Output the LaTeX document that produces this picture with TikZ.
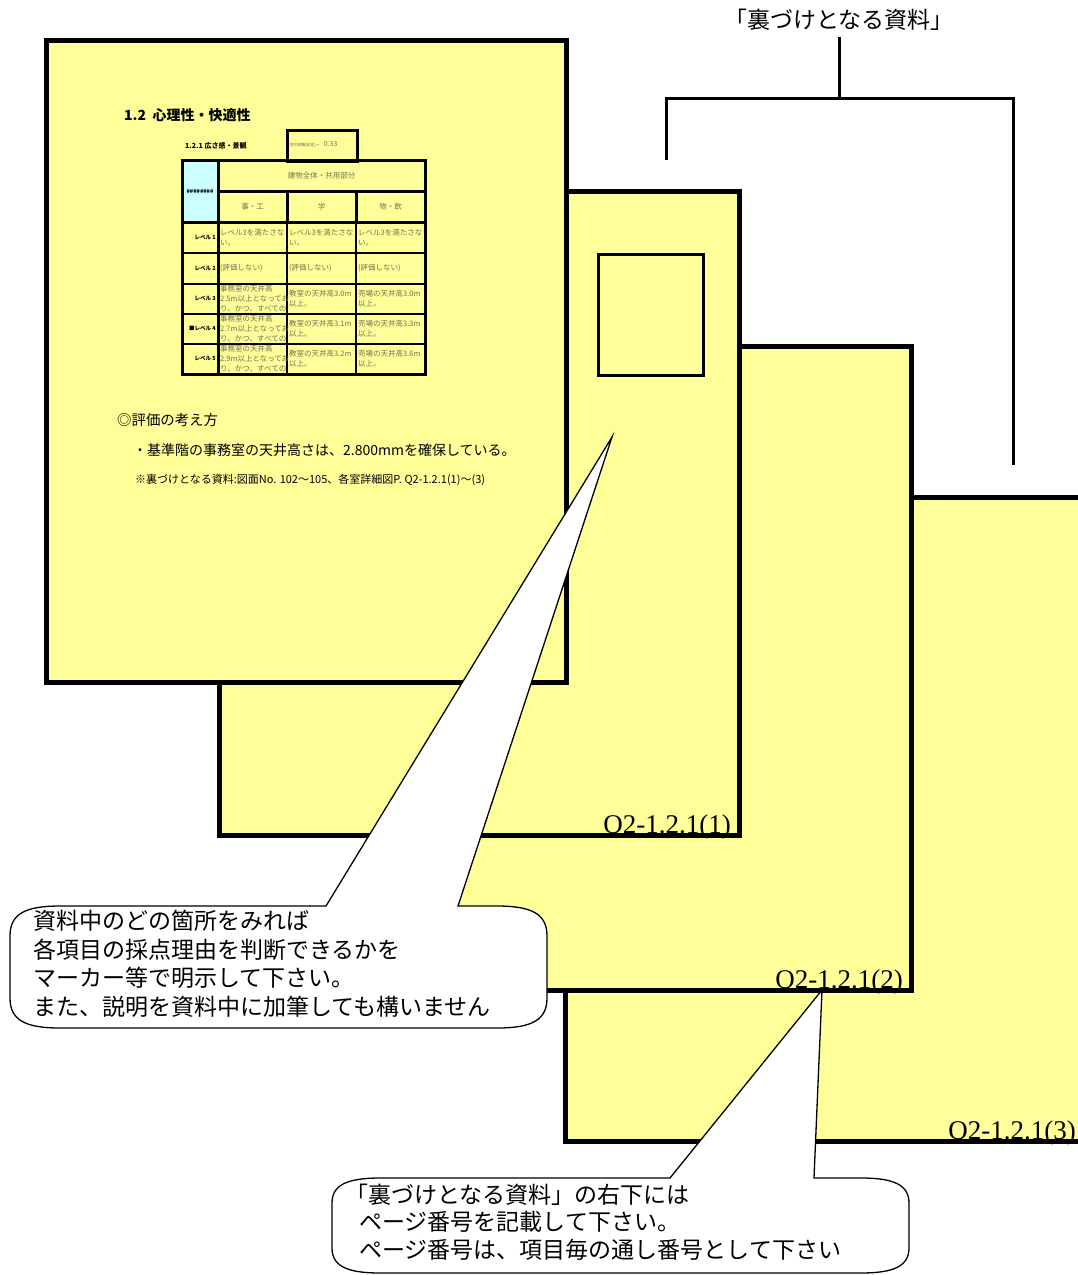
\documentclass[tikz,border=0pt]{standalone}
\usepackage{fontspec}
\setmainfont{Noto Sans CJK JP}
\newfontfamily\pagenofont{Liberation Serif}
\usetikzlibrary{calc}

\definecolor{sheetyellow}{RGB}{255,255,153}
\definecolor{headcyan}{RGB}{204,255,255}
\definecolor{cellgray}{RGB}{115,115,85}
\newcommand{\fsz}[2]{\fontsize{#1}{#2}\selectfont}

\begin{document}
\begin{tikzpicture}[x=1pt,y=-1pt,
  sheet/.style={draw, line width=5pt, fill=sheetyellow, minimum width=520pt,
    minimum height=644pt, anchor=north west, inner sep=0pt},
  sheetno/.style={anchor=base east, inner sep=0pt, font=\pagenofont\fsz{27}{30}},
  tblthick/.style={line width=3pt},
  tblthin/.style={line width=1.2pt},
  tblcell/.style={anchor=west, inner sep=0pt, align=left, text=cellgray, font=\fsz{7.5}{10}},
  lvl/.style={anchor=east, inner sep=0pt, font=\bfseries\fsz{5.5}{6}},
  brk/.style={line width=3pt},
  bubble/.style={draw, fill=white, line width=1.3pt},
  bubbletext/.style={anchor=west, inner sep=0pt, align=left, font=\fsz{23}{28.5}}]

  \useasboundingbox (0,0) rectangle (1077,1275);

  % sheets, back to front
  \node[sheet] (sheet3) at (563,495) {};
  \node[sheetno] (no3) at ($(sheet3.south east)+(-12,-5)$) {Q2-1.2.1(3)};
  \node[sheet] (sheet2) at (389,344) {};
  \node[sheetno] (no2) at ($(sheet2.south east)+(-11,-5)$) {Q2-1.2.1(2)};
  \node[sheet] (sheet1) at (217,189) {};
  \node[sheetno] (no1) at ($(sheet1.south east)+(-11,-5)$) {Q2-1.2.1(1)};
  \node[draw, line width=3pt, anchor=north west, inner sep=0pt,
        minimum width=105pt, minimum height=121pt] (mark1) at (597,253) {};
  \node[sheet, minimum height=642pt] (front) at (44,38) {};

  % front sheet contents
  \node[anchor=west, inner sep=0pt, font=\bfseries\fsz{14}{16}] (sec) at (124,115) {1.2\ \ 心理性・快適性};
  \node[anchor=west, inner sep=0pt, font=\bfseries\fsz{7}{8}] (subsec) at (185,146) {1.2.1 広さ感・景観};
  \node[draw, line width=3pt, anchor=north west, inner sep=0pt,
        minimum width=70pt, minimum height=31pt] (gbox) at (286,129) {};
  \node[anchor=west, inner sep=0pt, text=cellgray] (gval) at (290,144)
    {{\fsz{3.8}{4}室内景観(設定)→}\ \ {\fsz{7}{8}0.33}};

  \fill[headcyan] (182,160) rectangle (218,222);
  \foreach \y in {253,284,314,344}
    \draw[tblthin] (182,\y) -- (425,\y);
  \draw[tblthin] (287,222) -- (287,374) (356,222) -- (356,374);
  \draw[tblthick] (182,160) rectangle (218,222) (218,160) rectangle (425,191)
    (218,191) rectangle (287,222) (287,191) rectangle (356,222)
    (356,191) rectangle (425,222) (182,222) rectangle (425,374)
    (218,222) -- (218,374);

  \node[inner sep=0pt, font=\bfseries\fsz{5.5}{6}] (hash) at (200,191) {\#\#\#\#\#\#\#\#};
  \node[inner sep=0pt, text=cellgray, font=\fsz{7.5}{9}] (whole) at (321.5,175.5) {建物全体・共用部分};
  \node[inner sep=0pt, text=cellgray, font=\fsz{7.5}{9}] (colA) at (252.5,206.5) {事・工};
  \node[inner sep=0pt, text=cellgray, font=\fsz{7.5}{9}] (colB) at (321.5,206.5) {学};
  \node[inner sep=0pt, text=cellgray, font=\fsz{7.5}{9}] (colC) at (390.5,206.5) {物・飲};

  \foreach \lab/\yc/\ta/\tb/\tc in {
    {レベル 1}/237.5/{レベル3を満たさな\\い。}/{レベル3を満たさな\\い。}/{レベル3を満たさな\\い。},
    {レベル 2}/268.5/{(評価しない)}/{(評価しない)}/{(評価しない)},
    {レベル 3}/299/{事務室の天井高\\2.5m以上となってお\\り、かつ、すべての}/{教室の天井高3.0m\\以上。}/{売場の天井高3.0m\\以上。},
    {■レベル 4}/329/{事務室の天井高\\2.7m以上となってお\\り、かつ、すべての}/{教室の天井高3.1m\\以上。}/{売場の天井高3.3m\\以上。},
    {レベル 5}/359/{事務室の天井高\\2.9m以上となってお\\り、かつ、すべての}/{教室の天井高3.2m\\以上。}/{売場の天井高3.6m\\以上。}}
  {
    \node[lvl] at (216,\yc) {\lab};
    \node[tblcell] at (220,\yc) {\ta};
    \node[tblcell] at (289,\yc) {\tb};
    \node[tblcell] at (358,\yc) {\tc};
  }

  \node[anchor=west, inner sep=0pt, font=\fsz{14.4}{16}] (howto) at (117,420) {◎評価の考え方};
  \node[anchor=west, inner sep=0pt, font=\fsz{14}{16}] (reason) at (133,450)
    {・基準階の事務室の天井高さは、2.800mmを確保している。};
  \node[anchor=west, inner sep=0pt, font=\fsz{11}{13}] (source) at (135,480)
    {※裏づけとなる資料:図面No. 102～105、各室詳細図P. Q2-1.2.1(1)～(3)};

  % bracket over the backing sheets
  \node[inner sep=0pt, font=\fsz{23}{28}] (title) at (839,20) {「裏づけとなる資料」};
  \coordinate (fork) at (839,98);
  \coordinate (legL) at (666,160);
  \coordinate (legR) at (1013,465);
  \draw[brk] ([yshift=-6pt]title.south) -- (fork);
  \draw[brk] (legL) |- (fork) -| (legR);

  % callouts
  \coordinate (tipA) at (612,437);
  \coordinate (tipB) at (822,990);
  \draw[bubble] (10,936) .. controls (10,914) and (25,906) .. (60,906) -- (326,906)
    -- (tipA) -- (458,906) -- (497,906) .. controls (532,906) and (547,914) .. (547,936)
    -- (547,998) .. controls (547,1020) and (532,1028) .. (497,1028) -- (60,1028)
    .. controls (25,1028) and (10,1020) .. (10,998) -- cycle;
  \node[bubbletext] (noteA) at (33,964)
    {資料中のどの箇所をみれば\\各項目の採点理由を判断できるかを\\マーカー等で明示して下さい。\\また、説明を資料中に加筆しても構いません};

  \draw[bubble] (332,1203) .. controls (332,1185) and (347,1178) .. (380,1178) -- (670,1178)
    -- (tipB) -- (814,1178) -- (861,1178) .. controls (894,1178) and (909,1185) .. (909,1203)
    -- (909,1248) .. controls (909,1266) and (894,1273) .. (861,1273) -- (380,1273)
    .. controls (347,1273) and (332,1266) .. (332,1248) -- cycle;
  \node[bubbletext, font=\fsz{23}{27.5}] (noteB) at (345,1222)
    {「裏づけとなる資料」の右下には\\\hspace*{14pt}ページ番号を記載して下さい。\\\hspace*{14pt}ページ番号は、項目毎の通し番号として下さい};
\end{tikzpicture}
\end{document}
